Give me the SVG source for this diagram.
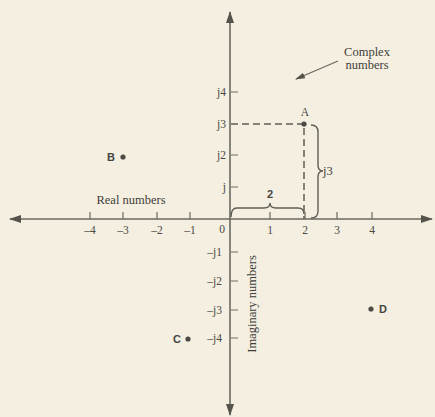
<svg xmlns="http://www.w3.org/2000/svg" width="435" height="417" viewBox="0 0 435 417">
<defs>
<style>
.ax{stroke:#6b6a60;stroke-width:1.6;fill:none}
.tk{stroke:#6b6a60;stroke-width:1.2;fill:none}
.br{stroke:#5f5e55;stroke-width:1.4;fill:none}
.dash{stroke:#5f5e55;stroke-width:1.5;fill:none;stroke-dasharray:7 4}
.t{font-family:"Liberation Serif","DejaVu Serif",serif;font-size:12.5px;fill:#3f3e3a}
.n{font-family:"Liberation Serif","DejaVu Serif",serif;font-size:11.5px;fill:#4a4944}
.pl{font-family:"Liberation Sans","DejaVu Sans",sans-serif;font-size:11px;font-weight:bold;fill:#45443f}
.pt{fill:#4a4944}
</style>
<marker id="ah" viewBox="0 0 12 8" refX="11" refY="4" markerWidth="12" markerHeight="8" markerUnits="userSpaceOnUse" orient="auto">
<path d="M0,0 L12,4 L0,8 z" fill="#55544c"/>
</marker>
<marker id="ah2" viewBox="0 0 10 6" refX="9" refY="3" markerWidth="10" markerHeight="6" markerUnits="userSpaceOnUse" orient="auto">
<path d="M0,0 L10,3 L0,6 z" fill="#55544c"/>
</marker>
</defs>
<rect width="435" height="417" fill="#f4efe1"/>
<g id="connectors">
<line class="ax" x1="230" y1="219" x2="10" y2="219" marker-end="url(#ah)"/>
<line class="ax" x1="230" y1="219" x2="432" y2="219" marker-end="url(#ah)"/>
<line class="ax" x1="230" y1="219" x2="230" y2="12" marker-end="url(#ah)"/>
<line class="ax" x1="230" y1="219" x2="230" y2="415" marker-end="url(#ah)"/>
<line class="ax" x1="338" y1="61" x2="296" y2="79" marker-end="url(#ah2)" style="stroke-width:1.3"/>
<path class="dash" d="M231,124 L304,124 L304,219"/>
<path class="br" d="M231,217 Q231,208 237,208 L264,208 Q270,208 270,203 Q270,208 276,208 L298,208 Q304,208 304,214"/>
<path class="br" d="M311,125 Q318,125 318,132 L318,165 Q318,171 323,171 Q318,171 318,177 L318,211 Q318,218 311,218"/>
</g>
<g id="ticks">
<path class="tk" d="M90,212V219M123,212V219M157,212V219M190,212V219M270,212V219M305,212V219M337,212V219M372,212V219"/>
<path class="tk" d="M231,92H238M231,155H238M231,187H238M231,252H238M231,281H238M231,310H238M231,338H238"/>
</g>
<g id="axis-labels">
<text class="n" x="90" y="234" text-anchor="middle">–4</text>
<text class="n" x="123" y="234" text-anchor="middle">–3</text>
<text class="n" x="157" y="234" text-anchor="middle">–2</text>
<text class="n" x="190" y="234" text-anchor="middle">–1</text>
<text class="n" x="222" y="233" text-anchor="middle">0</text>
<text class="n" x="270" y="234" text-anchor="middle">1</text>
<text class="n" x="305" y="234" text-anchor="middle">2</text>
<text class="n" x="337" y="234" text-anchor="middle">3</text>
<text class="n" x="372" y="234" text-anchor="middle">4</text>
<text class="n" x="226" y="96" text-anchor="end">j4</text>
<text class="n" x="226" y="128" text-anchor="end">j3</text>
<text class="n" x="226" y="159" text-anchor="end">j2</text>
<text class="n" x="226" y="191" text-anchor="end">j</text>
<text class="n" x="222" y="256" text-anchor="end">–j1</text>
<text class="n" x="222" y="285" text-anchor="end">–j2</text>
<text class="n" x="222" y="314" text-anchor="end">–j3</text>
<text class="n" x="222" y="342" text-anchor="end">–j4</text>
</g>
<g id="real-numbers"><text class="t" x="131" y="204" text-anchor="middle">Real numbers</text></g>
<g id="imaginary-numbers"><text class="t" transform="translate(256,304) rotate(-90)" text-anchor="middle">Imaginary numbers</text></g>
<g id="complex-numbers">
<text class="t" x="367" y="56" text-anchor="middle">Complex</text>
<text class="t" x="367" y="69" text-anchor="middle">numbers</text>
</g>
<g id="brace-2"><text class="pl" x="270" y="198" text-anchor="middle">2</text></g>
<g id="brace-j3"><text class="t" x="323" y="175">j3</text></g>
<g id="point-A"><circle class="pt" cx="304" cy="124" r="2.6"/><text class="n" x="305" y="116" text-anchor="middle">A</text></g>
<g id="point-B"><circle class="pt" cx="123" cy="157" r="2.6"/><text class="pl" x="107" y="161">B</text></g>
<g id="point-C"><circle class="pt" cx="188" cy="339" r="2.6"/><text class="pl" x="173" y="343">C</text></g>
<g id="point-D"><circle class="pt" cx="371" cy="309" r="2.6"/><text class="pl" x="379" y="313">D</text></g>
</svg>
